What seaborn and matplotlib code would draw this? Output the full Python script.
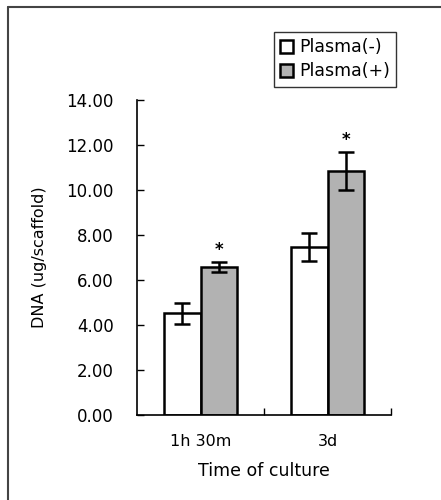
import seaborn as sns
import pandas as pd
import numpy as np
from matplotlib import pyplot as plt
from matplotlib.lines import Line2D

# values
times = ['1h 30m', '3d']
groups = ['Plasma(-)', 'Plasma(+)']
dna_minus = [4.53, 7.47]
dna_plus = [6.58, 10.84]
err_minus = [0.47, 0.62]
err_plus = [0.23, 0.84]
stars = ['', '*', '', '*']   # minus, plus for 1h 30m; minus, plus for 3d

df = pd.DataFrame({
    'time': times * 2,
    'group': [groups[0]] * 2 + [groups[1]] * 2,
    'dna': dna_minus + dna_plus,
    'err': err_minus + err_plus,
})

sns.set_theme(style='white')
plt.rcParams['font.family'] = ['DejaVu Sans']
plt.rcParams['text.color'] = 'black'
plt.rcParams['axes.labelcolor'] = 'black'
plt.rcParams['xtick.color'] = 'black'
plt.rcParams['ytick.color'] = 'black'
plt.rcParams['xtick.direction'] = 'in'
plt.rcParams['ytick.direction'] = 'in'

fig = plt.figure(figsize=(4.41, 5), dpi=100)
ax = fig.add_axes([0.311, 0.17, 0.576, 0.63])

sns.barplot(data=df, x='time', y='dna', hue='group', order=times, hue_order=groups,
            palette=['white', '#b2b2b2'], edgecolor='black', linewidth=1.8,
            width=0.58, errorbar=None, ax=ax)

# error bars and stars from bar patches
bars = [p for p in ax.patches if p.get_height() > 0][:4]
for i, g in enumerate(groups):
    sub = df[df['group'] == g].set_index('time').loc[times]
    for j, t in enumerate(times):
        p = bars[i * 2 + j]
        xc = p.get_x() + p.get_width() / 2
        ax.errorbar(xc, sub['dna'][t], yerr=sub['err'][t], color='black',
                    capsize=6, capthick=1.8, elinewidth=1.8)
        s = stars[j * 2 + i]
        if s:
            ax.text(xc, sub['dna'][t] + sub['err'][t] + 0.12, s, ha='center',
                    va='bottom', fontsize=12, fontweight='bold')

ax.set_ylim(0, 14)
ax.set_xlim(-0.5, 1.5)
ax.set_yticks(np.arange(0, 14.1, 2))
ax.set_yticklabels([f'{v:.2f}' for v in np.arange(0, 14.1, 2)])
ax.set_xticks([0, 1])
ax.set_xticks([0.5, 1.5], minor=True)
ax.tick_params(axis='x', which='major', length=0, pad=14, labelsize=11.5)
ax.tick_params(axis='x', which='minor', direction='in', length=5, width=1,
               bottom=True)
ax.tick_params(axis='y', direction='in', length=5, width=1, left=True,
               labelsize=12, pad=17)
sns.despine(ax=ax)
for sp in ['left', 'bottom']:
    ax.spines[sp].set_color('black')
    ax.spines[sp].set_linewidth(1.2)

ax.set_xlabel('Time of culture', fontsize=12.5, labelpad=9)
ax.set_ylabel('DNA (ug/scaffold)', fontsize=11.5, labelpad=14)

ax.legend(loc='upper right', bbox_to_anchor=(1.02, 1.215), fontsize=12.5,
          frameon=True, fancybox=False, edgecolor='black', handlelength=0.75,
          handleheight=0.75, handletextpad=0.35, borderpad=0.35, labelspacing=0.35,
          borderaxespad=0)
ax.get_legend().get_frame().set_linewidth(1.0)

# figure frame (left and top edges)
fig.add_artist(Line2D([0.018, 0.018], [0, 0.986], color='#444444', lw=1.5))
fig.add_artist(Line2D([0.018, 1.0], [0.986, 0.986], color='#444444', lw=1.5))

fig.savefig('out.png', dpi=100)
